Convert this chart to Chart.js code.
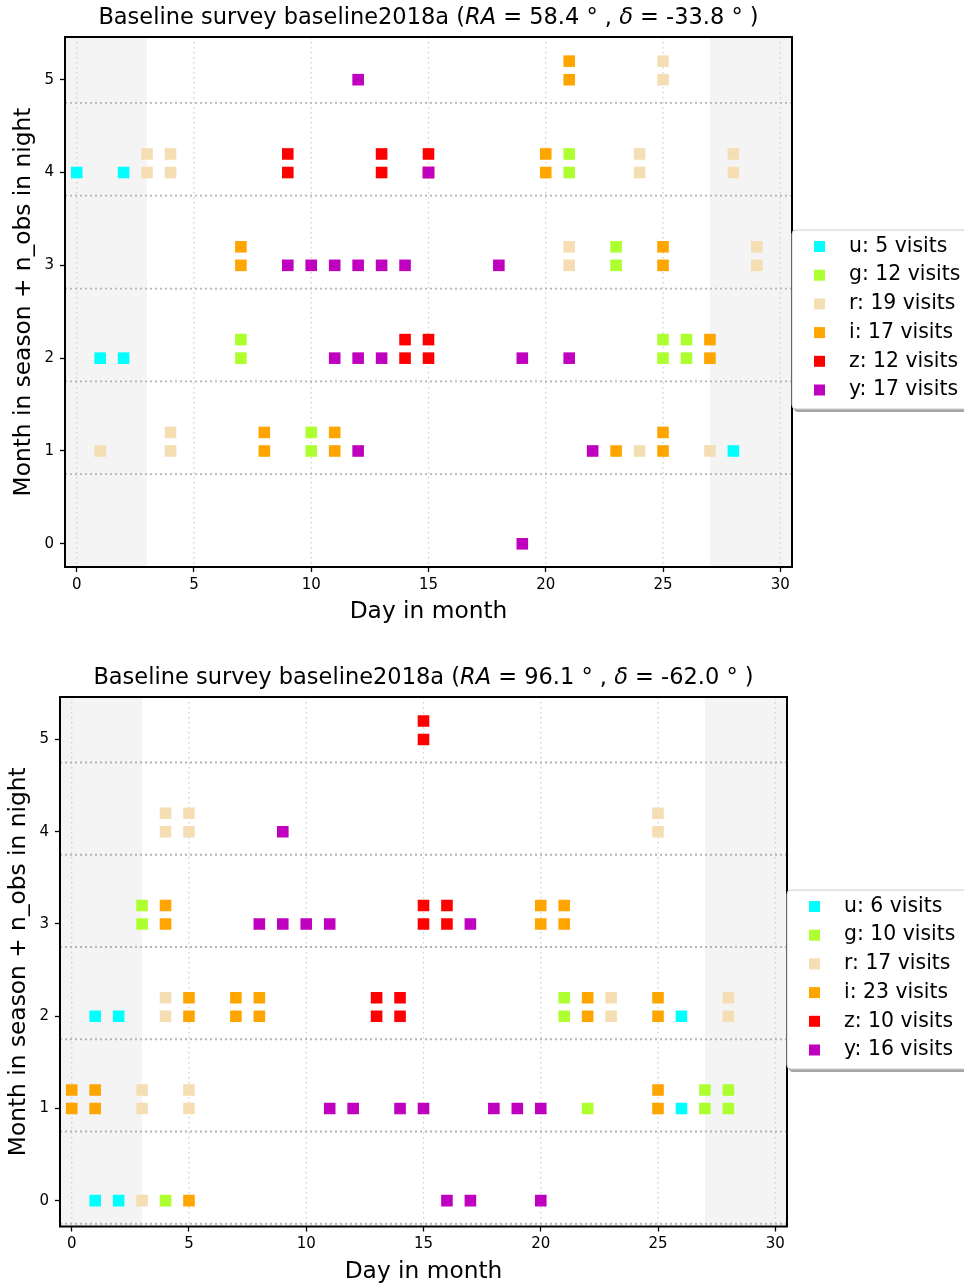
<!DOCTYPE html>
<html>
<head>
<meta charset="utf-8">
<script src="https://cdn.jsdelivr.net/npm/chart.js@4"></script>
<style>
  body { margin: 0; background: #fff; width: 964px; height: 1286px; overflow: hidden; }
  .box { position: absolute; left: 0; width: 964px; }
</style>
</head>
<body>
<div class="box" style="top:0;height:659px"><canvas id="topChart"></canvas></div>
<div class="box" style="top:659px;height:627px"><canvas id="bottomChart"></canvas></div>
<script>
const filters = ['u', 'g', 'r', 'i', 'z', 'y'];
const filterColors = ['#00ffff', '#adff2f', '#f5deb3', '#ffa500', '#ff0000', '#bf00bf'];
const xTicks = [0, 5, 10, 15, 20, 25, 30];
const yTicks = [0, 1, 2, 3, 4, 5];
const monthEdges = [-0.25, 0.75, 1.75, 2.75, 3.75, 4.75];
const shadeSpans = [[-0.5, 3], [27, 30.5]];

// top panel: [day in month, month + n_obs offset]
const topRA = 58.4, topDec = -33.8;
const topYRange = [-0.25, 5.46];
const topVisits = [5, 12, 19, 17, 12, 17];
const topU = [[0, 4], [2, 4], [1, 2], [2, 2], [28, 1]];
const topG = [[21, 4], [21, 4.2], [23, 3], [23, 3.2], [7, 2], [7, 2.2], [25, 2], [25, 2.2], [26, 2], [26, 2.2], [10, 1], [10, 1.2]];
const topR = [[25, 5], [25, 5.2], [3, 4], [3, 4.2], [4, 4], [4, 4.2], [24, 4], [24, 4.2], [28, 4], [28, 4.2],
              [21, 3], [21, 3.2], [29, 3], [29, 3.2], [1, 1], [4, 1], [4, 1.2], [24, 1], [27, 1]];
const topI = [[21, 5], [21, 5.2], [20, 4], [20, 4.2], [7, 3], [7, 3.2], [25, 3], [25, 3.2], [27, 2], [27, 2.2],
              [8, 1], [8, 1.2], [11, 1], [11, 1.2], [23, 1], [25, 1], [25, 1.2]];
const topZ = [[9, 4], [9, 4.2], [13, 4], [13, 4.2], [15, 4], [15, 4.2], [14, 2], [14, 2.2], [15, 2], [15, 2.2]];
const topY = [[12, 5], [15, 4], [9, 3], [10, 3], [11, 3], [12, 3], [13, 3], [14, 3], [18, 3],
              [11, 2], [12, 2], [13, 2], [19, 2], [21, 2], [12, 1], [22, 1], [19, 0]];

// bottom panel
const bottomRA = 96.1, bottomDec = -62.0;
const bottomYRange = [-0.28, 5.46];
const bottomVisits = [6, 10, 17, 23, 10, 16];
const bottomU = [[1, 2], [2, 2], [26, 2], [26, 1], [1, 0], [2, 0]];
const bottomG = [[3, 3], [3, 3.2], [21, 2], [21, 2.2], [22, 1], [27, 1], [27, 1.2], [28, 1], [28, 1.2], [4, 0]];
const bottomR = [[4, 4], [4, 4.2], [5, 4], [5, 4.2], [25, 4], [25, 4.2], [4, 2], [4, 2.2], [23, 2], [23, 2.2],
                 [28, 2], [28, 2.2], [3, 1], [3, 1.2], [5, 1], [5, 1.2], [3, 0]];
const bottomI = [[4, 3], [4, 3.2], [20, 3], [20, 3.2], [21, 3], [21, 3.2], [5, 2], [5, 2.2], [7, 2], [7, 2.2],
                 [8, 2], [8, 2.2], [22, 2], [22, 2.2], [25, 2], [25, 2.2], [0, 1], [0, 1.2], [1, 1], [1, 1.2],
                 [25, 1], [25, 1.2], [5, 0]];
const bottomZ = [[15, 5], [15, 5.2], [15, 3], [15, 3.2], [16, 3], [16, 3.2], [13, 2], [13, 2.2], [14, 2], [14, 2.2]];
const bottomY = [[9, 4], [8, 3], [9, 3], [10, 3], [11, 3], [17, 3], [11, 1], [12, 1], [14, 1], [15, 1],
                 [18, 1], [19, 1], [20, 1], [16, 0], [17, 0], [20, 0]];

const FONT = "'DejaVu Sans', sans-serif";
Chart.defaults.font.family = FONT;

function drawTitle(ctx, cx, cy, ra, dec) {
  const parts = [
    ['Baseline survey baseline2018a (', ''],
    ['RA', 'italic '],
    [' = ' + ra.toFixed(1) + ' \u00b0 , ', ''],
    ['\u03b4', 'italic '],
    [' = ' + dec.toFixed(1) + ' \u00b0 )', '']
  ];
  const size = 22.5;
  let total = 0;
  parts.forEach(p => { ctx.font = p[1] + size + 'px ' + FONT; total += ctx.measureText(p[0]).width; });
  let x = cx - total / 2;
  ctx.fillStyle = '#000';
  ctx.textAlign = 'left';
  ctx.textBaseline = 'middle';
  parts.forEach(p => {
    ctx.font = p[1] + size + 'px ' + FONT;
    ctx.fillText(p[0], x, cy);
    x += ctx.measureText(p[0]).width;
  });
}

function decor(ra, dec, visits) {
  return {
    id: 'decor',
    beforeDatasetsDraw(chart) {
      const { ctx, chartArea: a, scales: { x, y } } = chart;
      ctx.save();
      ctx.fillStyle = '#f4f4f4';
      shadeSpans.forEach(([s, e]) => {
        const x0 = x.getPixelForValue(s), x1 = x.getPixelForValue(e);
        ctx.fillRect(x0, a.top, x1 - x0, a.bottom - a.top);
      });
      ctx.setLineDash([1.5, 3.5]);
      ctx.strokeStyle = '#d0d0d0';
      ctx.lineWidth = 1.3;
      xTicks.forEach(v => {
        const px = x.getPixelForValue(v);
        ctx.beginPath(); ctx.moveTo(px, a.top); ctx.lineTo(px, a.bottom); ctx.stroke();
      });
      ctx.setLineDash([2, 3]);
      ctx.strokeStyle = '#b4b4b4';
      ctx.lineWidth = 1.8;
      monthEdges.forEach(v => {
        const py = y.getPixelForValue(v);
        ctx.beginPath(); ctx.moveTo(a.left, py); ctx.lineTo(a.right, py); ctx.stroke();
      });
      ctx.restore();
    },
    afterDraw(chart) {
      const { ctx, chartArea: a } = chart;
      ctx.save();
      ctx.strokeStyle = '#000';
      ctx.lineWidth = 2;
      ctx.strokeRect(a.left, a.top, a.right - a.left, a.bottom - a.top);

      drawTitle(ctx, (a.left + a.right) / 2, a.top - 19, ra, dec);

      ctx.font = '23.3px ' + FONT;
      ctx.textAlign = 'center';
      ctx.textBaseline = 'middle';
      ctx.fillText('Day in month', (a.left + a.right) / 2, a.bottom + 45);
      ctx.save();
      ctx.translate(a.left - 41, (a.top + a.bottom) / 2);
      ctx.rotate(-Math.PI / 2);
      ctx.fillText('Month in season + n_obs in night', 0, 0);
      ctx.restore();

      // legend
      const bx = a.right, by = a.top + 193, bw = 200, bh = 179;
      ctx.fillStyle = 'rgba(0,0,0,0.35)';
      ctx.beginPath(); ctx.roundRect(bx + 2, by + 3, bw, bh, 4); ctx.fill();
      ctx.fillStyle = '#fff';
      ctx.strokeStyle = '#cccccc';
      ctx.lineWidth = 1;
      ctx.beginPath(); ctx.roundRect(bx, by, bw, bh, 4); ctx.fill(); ctx.stroke();
      ctx.font = '20.4px ' + FONT;
      ctx.textAlign = 'left';
      filters.forEach((f, i) => {
        const cy = by + 16.5 + i * 28.7;
        ctx.fillStyle = filterColors[i];
        ctx.fillRect(bx + 22, cy - 5.5, 11, 11);
        ctx.fillStyle = '#000';
        ctx.fillText(f + ': ' + visits[i] + ' visits', bx + 57, cy);
      });
      ctx.restore();
    }
  };
}

function makeChart(id, series, visits, ra, dec, yRange, box) {
  new Chart(document.getElementById(id), {
    type: 'scatter',
    data: {
      datasets: filters.map((f, i) => ({
        label: f,
        data: series[i].map(([d, v]) => ({ x: d, y: v })),
        backgroundColor: filterColors[i],
        borderColor: filterColors[i],
        pointStyle: 'rect',
        pointRadius: 8.2,
        pointHoverRadius: 8.2,
        pointBorderWidth: 0,
        order: filters.length - i
      }))
    },
    options: {
      responsive: true,
      maintainAspectRatio: false,
      animation: false,
      devicePixelRatio: 1,
      events: [],
      layout: { padding: { top: box.top, left: 0, right: 964 - box.right, bottom: 0 } },
      plugins: { legend: { display: false }, title: { display: false }, tooltip: { enabled: false } },
      scales: {
        x: {
          type: 'linear', min: -0.5, max: 30.5,
          afterBuildTicks: s => { s.ticks = xTicks.map(v => ({ value: v })); },
          afterFit: s => { s.height = box.xh; },
          grid: { drawOnChartArea: false, drawTicks: true, tickLength: 5, tickColor: '#000', tickWidth: 1.3 },
          border: { display: false },
          ticks: { color: '#000', font: { size: 15 }, padding: 4, maxRotation: 0, autoSkip: false }
        },
        y: {
          type: 'linear', min: yRange[0], max: yRange[1],
          afterBuildTicks: s => { s.ticks = yTicks.map(v => ({ value: v })); },
          afterFit: s => { s.width = box.left; },
          grid: { drawOnChartArea: false, drawTicks: true, tickLength: 5, tickColor: '#000', tickWidth: 1.3 },
          border: { display: false },
          ticks: { color: '#000', font: { size: 15 }, padding: 6, autoSkip: false }
        }
      }
    },
    plugins: [decor(ra, dec, visits)]
  });
}

makeChart('topChart', [topU, topG, topR, topI, topZ, topY], topVisits, topRA, topDec, topYRange,
  { left: 65, right: 792, top: 37, xh: 92 });
makeChart('bottomChart', [bottomU, bottomG, bottomR, bottomI, bottomZ, bottomY], bottomVisits, bottomRA, bottomDec, bottomYRange,
  { left: 60, right: 787, top: 38, xh: 59.5 });
</script>
</body>
</html>
